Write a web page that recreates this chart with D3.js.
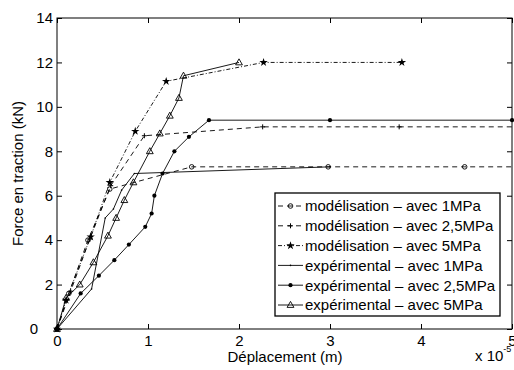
<!DOCTYPE html>
<html>
<head>
<meta charset="utf-8">
<script src="https://d3js.org/d3.v7.min.js"></script>
<style>
  body { margin: 0; background: #fff; }
  svg text { font-family: "Liberation Sans", Arial, sans-serif; fill: #000; }
</style>
</head>
<body>
<div id="main_plot"></div>
<script>
// set the dimensions and margins of the graph
var margin = {top: 18, right: 2, bottom: 41, left: 57},
    width = 514 - margin.left - margin.right,
    height = 370 - margin.top - margin.bottom;

// tick values
var xTicks = [0, 1, 2, 3, 4, 5];
var yTicks = [0, 2, 4, 6, 8, 10, 12, 14];

// legend labels
var labels = [
  "modélisation – avec 1MPa",
  "modélisation – avec 2,5MPa",
  "modélisation – avec 5MPa",
  "expérimental – avec 1MPa",
  "expérimental – avec 2,5MPa",
  "expérimental – avec 5MPa"
];

// series values (x in 1e-5 m, y in kN)
var mod1X = [0, 0.13, 0.34, 0.58, 1.48, 2.98, 4.48, 5.98];
var mod1Y = [0, 1.6, 4.0, 6.3, 7.3, 7.3, 7.3, 7.3];

var mod25X = [0, 0.15, 0.36, 0.59, 0.96, 2.26, 3.76, 5.26];
var mod25Y = [0, 1.7, 4.05, 6.45, 8.7, 9.1, 9.1, 9.1];

var mod5X = [0, 0.1, 0.37, 0.58, 0.86, 1.2, 2.27, 3.79];
var mod5Y = [0, 1.3, 4.15, 6.6, 8.9, 11.15, 12.0, 12.0];

var exp1X = [0, 0.38, 0.53, 0.62, 0.71, 0.85, 3.0];
var exp1Y = [0, 1.8, 5.0, 5.4, 6.25, 7.0, 7.3];

var exp25X = [0, 0.26, 0.46, 0.63, 0.79, 0.97, 1.04, 1.07, 1.16, 1.29, 1.45, 1.67, 3.0, 5.0];
var exp25Y = [0, 1.6, 2.4, 3.1, 3.8, 4.6, 5.2, 6.0, 7.0, 8.0, 8.65, 9.4, 9.4, 9.4];

var exp5X = [0, 0.1, 0.25, 0.4, 0.56, 0.65, 0.74, 0.84, 1.02, 1.13, 1.24, 1.34, 1.39, 2.0];
var exp5Y = [0, 1.4, 2.0, 3.0, 4.2, 5.0, 5.8, 6.6, 8.0, 8.8, 9.6, 10.4, 11.4, 12.0];

// styles for each series
var series = [
  {x: mod1X,  y: mod1Y,  dash: "5,4",     marker: "circle"},
  {x: mod25X, y: mod25Y, dash: "5,4",     marker: "plus"},
  {x: mod5X,  y: mod5Y,  dash: "4,2,1,2", marker: "star"},
  {x: exp1X,  y: exp1Y,  dash: null,      marker: "point"},
  {x: exp25X, y: exp25Y, dash: null,      marker: "dot"},
  {x: exp5X,  y: exp5Y,  dash: null,      marker: "triangle"}
];
series.forEach(function(s, i) {
  s.label = labels[i];
  s.points = s.x.map(function(v, j) { return [v, s.y[j]]; });
});

// append the svg object
var svg0 = d3.select("div#main_plot")
  .append("svg")
    .attr("width", 514)
    .attr("height", 370);

var svg = svg0.append("g")
    .attr("transform", "translate(" + margin.left + "," + margin.top + ")");

// define the x Axis
var x = d3.scaleLinear()
  .domain([0, 5])
  .range([0, width]);

// define the y Axis
var y = d3.scaleLinear()
  .domain([0, 14])
  .range([height, 0]);

var my_tickSize = 5;

// clip the lines to the plot box
svg.append("clipPath")
    .attr("id", "clip")
  .append("rect")
    .attr("width", width)
    .attr("height", height);

// bottom axis with labels, ticks pointing inward
var gx = svg.append("g")
    .attr("transform", "translate(0," + height + ")")
    .call(d3.axisBottom(x)
      .tickValues(xTicks)
      .tickSize(-my_tickSize)
      .tickPadding(6)
      .tickFormat(d3.format("d")));

// left axis
var gy = svg.append("g")
    .call(d3.axisLeft(y)
      .tickValues(yTicks)
      .tickSize(-my_tickSize)
      .tickPadding(4)
      .tickFormat(d3.format("d")));

// top and right ticks, no labels
var gt = svg.append("g")
    .call(d3.axisTop(x).tickValues(xTicks).tickSize(-my_tickSize).tickFormat(""));
var gr = svg.append("g")
    .attr("transform", "translate(" + width + ",0)")
    .call(d3.axisRight(y).tickValues(yTicks).tickSize(-my_tickSize).tickFormat(""));

[gx, gy, gt, gr].forEach(function(g) {
  g.select(".domain").remove();
  g.selectAll(".tick line").attr("stroke", "#000").attr("stroke-width", 1);
  g.selectAll(".tick text")
    .attr("font-size", 15)
    .attr("font-family", "Liberation Sans, Arial, sans-serif")
    .attr("fill", "#000");
});

// the y "0" label sits further left in the reference
gy.selectAll(".tick").filter(function(d) { return d === 0; })
  .select("text").attr("x", -19);

// axes box
svg.append("rect")
    .attr("width", width)
    .attr("height", height)
    .attr("fill", "none")
    .attr("stroke", "#000")
    .attr("stroke-width", 1);

// axis labels
svg.append("text")
    .attr("x", 285 - margin.left)
    .attr("y", height + 33)
    .attr("text-anchor", "middle")
    .attr("font-size", 15)
    .text("Déplacement (m)");

svg.append("text")
    .attr("transform", "translate(" + (23 - margin.left) + "," + (height / 2) + ") rotate(-90)")
    .attr("text-anchor", "middle")
    .attr("font-size", 15)
    .text("Force en traction (kN)");

// exponent label
var expo = svg.append("text")
    .attr("x", 475 - margin.left)
    .attr("y", height + 32)
    .attr("font-size", 15);
expo.append("tspan").text("x 10");
expo.append("tspan")
    .attr("font-size", 9)
    .attr("dy", -9)
    .text("-5");

// draw a marker of a given kind
function drawMarker(g, kind, cx, cy) {
  if (kind === "circle") {
    g.append("circle").attr("cx", cx).attr("cy", cy).attr("r", 2.3)
      .attr("fill", "none").attr("stroke", "#000").attr("stroke-width", 0.9);
  } else if (kind === "plus") {
    g.append("path")
      .attr("d", "M" + (cx - 2.5) + "," + cy + "H" + (cx + 2.5) + "M" + cx + "," + (cy - 2.5) + "V" + (cy + 2.5))
      .attr("stroke", "#000").attr("stroke-width", 1);
  } else if (kind === "star") {
    g.append("path")
      .attr("d", d3.symbol().type(d3.symbolStar).size(22)())
      .attr("transform", "translate(" + cx + "," + cy + ")")
      .attr("fill", "#000");
  } else if (kind === "point") {
    g.append("circle").attr("cx", cx).attr("cy", cy).attr("r", 0.8).attr("fill", "#000");
  } else if (kind === "dot") {
    g.append("circle").attr("cx", cx).attr("cy", cy).attr("r", 2.1).attr("fill", "#000");
  } else if (kind === "triangle") {
    g.append("path")
      .attr("d", "M" + cx + "," + (cy - 3.6) + "L" + (cx + 3.4) + "," + (cy + 2.4) + "L" + (cx - 3.4) + "," + (cy + 2.4) + "Z")
      .attr("fill", "none").attr("stroke", "#000").attr("stroke-width", 0.9);
  }
}

var line = d3.line()
  .x(function(d) { return x(d[0]); })
  .y(function(d) { return y(d[1]); });

// plot the series
series.forEach(function(s) {
  svg.append("path")
    .datum(s.points)
    .attr("clip-path", "url(#clip)")
    .attr("fill", "none")
    .attr("stroke", "#000")
    .attr("stroke-width", 0.9)
    .attr("stroke-dasharray", s.dash)
    .attr("d", line);

  var gm = svg.append("g");
  s.points.forEach(function(p) {
    if (p[0] <= 5) drawMarker(gm, s.marker, x(p[0]), y(p[1]));
  });
});

// legend
var leg = svg0.append("g").attr("transform", "translate(275,193)");
leg.append("rect")
    .attr("width", 225)
    .attr("height", 123)
    .attr("fill", "#fff")
    .attr("stroke", "#000")
    .attr("stroke-width", 1.3);

series.forEach(function(s, i) {
  var ly = 13 + i * 19.8;
  leg.append("line")
    .attr("x1", 3).attr("x2", 28)
    .attr("y1", ly).attr("y2", ly)
    .attr("stroke", "#000")
    .attr("stroke-width", 0.9)
    .attr("stroke-dasharray", s.dash);
  drawMarker(leg, s.marker, 15.5, ly);
  leg.append("text")
    .attr("x", 30)
    .attr("y", ly + 5.3)
    .attr("font-size", 15)
    .text(s.label);
});
</script>
</body>
</html>
